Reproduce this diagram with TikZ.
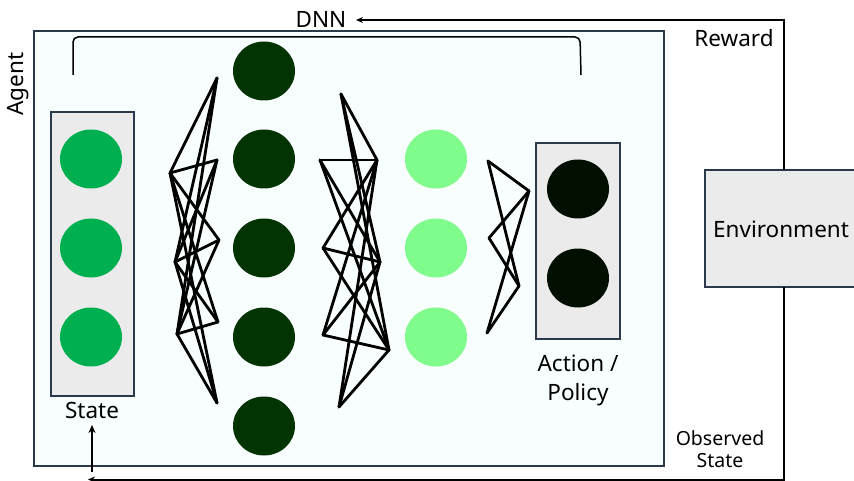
\documentclass[tikz,border=0pt]{standalone}
\usepackage{fontspec}
\setmainfont{Noto Sans}
\usetikzlibrary{shapes.geometric,arrows.meta}
\definecolor{agentbg}{HTML}{F8FEFE}
\definecolor{boxgray}{HTML}{EBEBEB}
\definecolor{edgeslate}{HTML}{2B3A4A}
\definecolor{stategreen}{HTML}{00B050}
\definecolor{hiddengreen}{HTML}{023402}
\definecolor{lightgreen}{HTML}{80FC8C}
\definecolor{actiongreen}{HTML}{000F00}
\tikzset{
  neuron/.style={ellipse, minimum width=62pt, minimum height=59pt, inner sep=0pt},
  panel/.style={draw=edgeslate, line width=1.3pt, fill=boxgray},
  wire/.style={line width=2.8pt, line cap=round, line join=round},
  flow/.style={line width=2pt},
  label/.style={font=\fontsize{22.5}{27}\selectfont, inner sep=0pt},
  small/.style={font=\fontsize{19.5}{24}\selectfont, inner sep=0pt, align=center},
}
\begin{document}
\begin{tikzpicture}[x=1pt, y=-1pt]
\useasboundingbox (0,0) rectangle (854,481);
\fill[white] (0,0) rectangle (854,481);

% agent frame
\draw[draw=edgeslate, line width=1.3pt, fill=agentbg] (34,31) rectangle (664,466);
\node[label, rotate=90] (agent) at (18,84) {Agent};

% bracket spanning the network
\draw[line width=1.5pt, rounded corners=5pt] (73,75) -- (73,37) -- (580,37) -- (581,75);

% input panel
\draw[panel] (51,112) rectangle (134,396);
\node[label] (statelbl) at (92,410) {State};
% action panel
\draw[panel] (536,143) rectangle (620,339);
\node[label] (actlbl1) at (578,363) {Action /};
\node[label] (actlbl2) at (578,395) {Policy};

% neurons
\foreach \y [count=\i] in {159,248,337}
  \node[neuron, fill=stategreen] (s\i) at (91,\y) {};
\foreach \y [count=\i] in {71,159,248,337,426}
  \node[neuron, fill=hiddengreen] (h\i) at (264,\y) {};
\foreach \y [count=\i] in {159,248,337}
  \node[neuron, fill=lightgreen] (g\i) at (436,\y) {};
\foreach \y [count=\i] in {189,278}
  \node[neuron, fill=actiongreen] (a\i) at (578,\y) {};

% wire end points, first bundle
\coordinate (pa1) at (170,173);
\coordinate (pa2) at (175,262);
\coordinate (pa3) at (177,334);
\coordinate (qa1) at (217,78);
\coordinate (qa2) at (217,160);
\coordinate (qa3) at (219,240);
\coordinate (qa4) at (218,322);
\coordinate (qa5) at (217,403);
% second bundle
\coordinate (pb1) at (341,94);
\coordinate (pb2) at (320,160);
\coordinate (pb3) at (323,248);
\coordinate (pb4) at (323,335);
\coordinate (pb5) at (339,407);
\coordinate (qb1) at (377,160);
\coordinate (qb2) at (380,262);
\coordinate (qb3) at (389,350);
% third bundle
\coordinate (pc1) at (488,161);
\coordinate (pc2) at (489,238);
\coordinate (pc3) at (487,333);
\coordinate (qc1) at (529,191);
\coordinate (qc2) at (519,286);

\foreach \i in {1,2,3} \foreach \j in {1,...,5}
  \draw[wire] (pa\i) -- (qa\j);
\foreach \i in {1,...,5} \foreach \j in {1,2,3}
  \draw[wire] (pb\i) -- (qb\j);
\foreach \i in {1,2,3} \foreach \j in {1,2}
  \draw[wire] (pc\i) -- (qc\j);

% environment
\draw[panel] (705,170) rectangle (880,287);
\node[label, anchor=west] (env) at (713,229) {Environment};

% reward loop
\node[label] (dnn) at (321,19) {DNN};
\node[label] (reward) at (734,38) {Reward};
\coordinate (rtop) at (784,20);
\coordinate (rend) at (356,20);
\draw[flow, -{Stealth[length=7pt,width=6pt]}] (784,170) -- (rtop) -- (rend);

% observed state loop
\node[small] (obs) at (720,449) {Observed\\[-2pt]State};
\coordinate (obot) at (784,479.5);
\coordinate (oend) at (88,479.5);
\draw[flow, -{Stealth[length=7pt,width=6pt]}] (784,287) -- (obot) -- (oend);
\coordinate (ostart) at (92,472);
\draw[flow, -{Stealth[length=8pt,width=7pt]}] (ostart) -- (92,425);
\end{tikzpicture}
\end{document}
